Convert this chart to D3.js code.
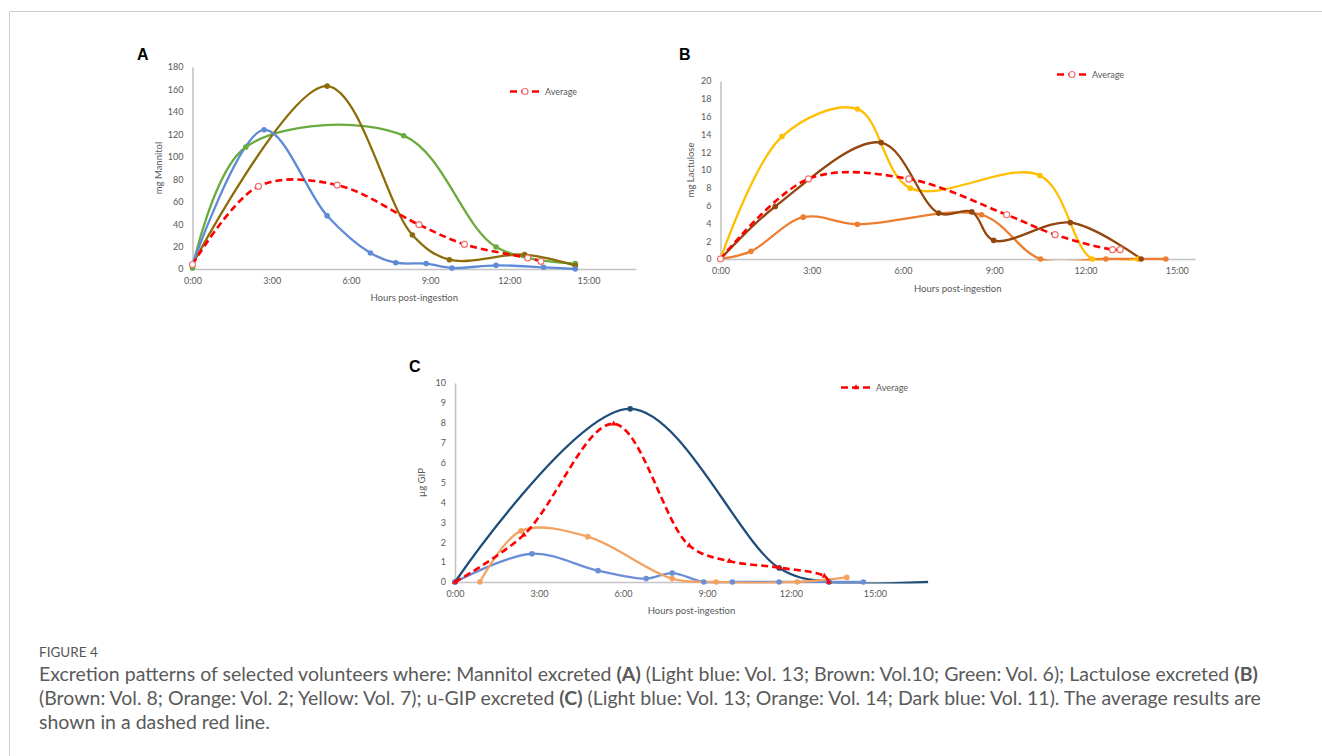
<!DOCTYPE html>
<html>
<head>
<meta charset="utf-8">
<script src="https://cdn.jsdelivr.net/npm/d3@7"></script>
<style>
body{margin:0;background:#fff;}
svg{display:block;font-family:Lato, "Open Sans", sans-serif;}
</style>
</head>
<body>
<svg id="fig" width="1322" height="756"></svg>
<script>
// x axis ticks (hours post-ingestion)
var hourTicks = [0, 3, 6, 9, 12, 15];
var hourLabels = ["0:00", "3:00", "6:00", "9:00", "12:00", "15:00"];

// A - mg Mannitol
var mannitolTicks = [0, 20, 40, 60, 80, 100, 120, 140, 160, 180];
var mannitolHours13 = [0, 2.71, 5.1, 6.74, 7.7, 8.85, 9.83, 11.5, 13.3, 14.5];
var mannitolVol13 = [4, 124, 47.5, 14.3, 5.6, 4.8, 0.9, 3.3, 1.5, 0];
var mannitolHours10 = [0, 5.1, 8.33, 9.73, 12.58, 14.5];
var mannitolVol10 = [4, 163, 30.3, 8.3, 12.8, 3];
var mannitolHours6 = [0, 2.02, 8.0, 11.5, 14.5];
var mannitolVol6 = [1, 108.7, 118.8, 19.6, 4.8];
var mannitolHoursAvg = [0, 2.5, 5.48, 8.58, 10.3, 12.7, 13.2];
var mannitolAvg = [4, 73.7, 74.8, 39.5, 22, 9.8, 6.8];

// B - mg Lactulose
var lactuloseTicks = [0, 2, 4, 6, 8, 10, 12, 14, 16, 18, 20];
var lactuloseHours7 = [0, 2.02, 4.5, 6.24, 10.5, 12.22, 13.72];
var lactuloseVol7 = [0, 13.76, 16.86, 7.96, 9.38, 0, 0];
var lactuloseHours8 = [0, 1.8, 5.28, 7.17, 8.26, 8.98, 11.5, 13.83];
var lactuloseVol8 = [0, 5.9, 13.08, 5.16, 5.3, 2.09, 4.1, 0];
var lactuloseHours2 = [0, 1.0, 2.72, 4.5, 8.58, 10.52, 12.67, 14.64];
var lactuloseVol2 = [0, 0.86, 4.7, 3.9, 4.97, 0, 0, 0];
var lactuloseHoursAvg = [0, 2.89, 6.19, 9.41, 11.0, 12.89, 13.14];
var lactuloseAvg = [0, 9.0, 9.0, 4.97, 2.73, 1.05, 1.05];

// C - ug GIP
var gipTicks = [0, 1, 2, 3, 4, 5, 6, 7, 8, 9, 10];
var gipHours11 = [0, 6.26, 11.58, 13.36, 16.9];
var gipVol11 = [0, 8.7, 0.7, 0, 0];
var gipHours13 = [0, 2.75, 5.11, 6.83, 7.76, 8.89, 9.91, 11.58, 13.36, 14.59];
var gipVol13 = [0, 1.42, 0.57, 0.17, 0.45, 0, 0, 0, 0, 0];
var gipHours14 = [0.89, 2.36, 4.74, 7.76, 9.33, 12.23, 14.0];
var gipVol14 = [0, 2.57, 2.28, 0.17, 0, 0, 0.23];
var gipHoursAvg = [0, 2.46, 5.67, 8.37, 9.8, 11.6, 13.2, 13.36];
var gipAvg = [0, 2.37, 7.95, 1.83, 1.05, 0.72, 0.3, 0];

var svg = d3.select("#fig");
var FONT = "Lato, 'Open Sans', sans-serif";

// frame lines
svg.append("line").attr("x1", 9.5).attr("x2", 1322).attr("y1", 11.5).attr("y2", 11.5)
    .attr("stroke", "#cfcfcf").attr("stroke-width", 1);
svg.append("line").attr("x1", 9.5).attr("x2", 9.5).attr("y1", 11.5).attr("y2", 756)
    .attr("stroke", "#cfcfcf").attr("stroke-width", 1);

var panels = [
  {
    name: "A", nameX: 137, nameY: 60,
    left: 192.5, right: 636, top: 67, bottom: 269, xMax: 16.8, yMax: 180, yTicks: mannitolTicks,
    yTitle: "mg Mannitol", yTitleX: 160, xTitleY: 301,
    legendX: 510, legendY: 91.5, avgMarker: "circle",
    series: [
      {hours: mannitolHours6, values: mannitolVol6, color: "#6aab3f"},
      {hours: mannitolHours10, values: mannitolVol10, color: "#8c6c08"},
      {hours: mannitolHours13, values: mannitolVol13, color: "#5f8ad6"}
    ],
    avg: {hours: mannitolHoursAvg, values: mannitolAvg}
  },
  {
    name: "B", nameX: 679, nameY: 60,
    left: 720.5, right: 1195, top: 81, bottom: 259, xMax: 15.6, yMax: 20, yTicks: lactuloseTicks,
    yTitle: "mg Lactulose", yTitleX: 692, xTitleY: 292,
    legendX: 1057, legendY: 74.5, avgMarker: "circle",
    series: [
      {hours: lactuloseHours2, values: lactuloseVol2, color: "#ed7d31"},
      {hours: lactuloseHours7, values: lactuloseVol7, color: "#ffbf00"},
      {hours: lactuloseHours8, values: lactuloseVol8, color: "#94460f"}
    ],
    avg: {hours: lactuloseHoursAvg, values: lactuloseAvg}
  },
  {
    name: "C", nameX: 409, nameY: 372,
    left: 455, right: 928, top: 383, bottom: 582, xMax: 16.9, yMax: 10, yTicks: gipTicks,
    yTitle: "\u00b5g GIP", yTitleX: 423, xTitleY: 614,
    legendX: 841, legendY: 387.5, avgMarker: "triangle",
    series: [
      {hours: gipHours11, values: gipVol11, color: "#1f4e79", openEnd: true},
      {hours: gipHours13, values: gipVol13, color: "#6b8fd6"},
      {hours: gipHours14, values: gipVol14, color: "#f4a261"}
    ],
    avg: {hours: gipHoursAvg, values: gipAvg}
  }
];

function DrawPanel(p, k)
{
  var x = d3.scaleLinear().domain([0, p.xMax]).range([p.left, p.right]);
  var y = d3.scaleLinear().domain([0, p.yMax]).range([p.bottom, p.top]);
  var g = svg.append("g");

  // keep the smoothed curves from dipping under the x axis
  g.append("clipPath").attr("id", "clip" + k)
    .append("rect")
    .attr("x", p.left - 5).attr("y", p.top - 40)
    .attr("width", p.right - p.left + 10).attr("height", p.bottom - p.top + 41.5);

  var yAxis = g.append("g")
    .attr("transform", "translate(" + p.left + ",0)")
    .call(d3.axisLeft(y).tickValues(p.yTicks).tickSize(0).tickPadding(9));
  var xAxis = g.append("g")
    .attr("transform", "translate(0," + p.bottom + ")")
    .call(d3.axisBottom(x).tickValues(hourTicks).tickFormat(function(d, i){ return hourLabels[i]; }).tickSize(0).tickPadding(9));

  [yAxis, xAxis].forEach(function(a){
    a.attr("font-family", FONT).attr("font-size", 9);
    a.select(".domain").attr("stroke", "#c4c4c4").attr("stroke-width", 1.6);
    a.selectAll("text").attr("fill", "#595959");
  });

  var line = d3.line()
    .x(function(d){ return x(d[0]); })
    .y(function(d){ return y(d[1]); })
    .curve(d3.curveCatmullRom.alpha(0.5));

  var lines = g.append("g").attr("clip-path", "url(#clip" + k + ")");

  p.series.forEach(function(s){
    var pts = s.hours.map(function(h, i){ return [h, s.values[i]]; });
    lines.append("path")
      .datum(pts)
      .attr("d", line)
      .attr("fill", "none")
      .attr("stroke", s.color)
      .attr("stroke-width", 2.3);
    g.selectAll(null)
      .data(s.openEnd ? pts.slice(0, -1) : pts)
      .enter()
      .append("circle")
      .attr("cx", function(d){ return x(d[0]); })
      .attr("cy", function(d){ return y(d[1]); })
      .attr("r", 2.8)
      .attr("fill", s.color);
  });

  // average, dashed red
  var avgPts = p.avg.hours.map(function(h, i){ return [h, p.avg.values[i]]; });
  g.append("path")
    .datum(avgPts)
    .attr("d", line)
    .attr("clip-path", "url(#clip" + k + ")")
    .attr("fill", "none")
    .attr("stroke", "#ff0000")
    .attr("stroke-width", 2.6)
    .attr("stroke-dasharray", "7,4");
  DrawMarkers(g, avgPts.map(function(d){ return [x(d[0]), y(d[1])]; }), p.avgMarker);

  // legend
  g.append("line")
    .attr("x1", p.legendX).attr("x2", p.legendX + 30)
    .attr("y1", p.legendY).attr("y2", p.legendY)
    .attr("stroke", "#ff0000").attr("stroke-width", 2.6).attr("stroke-dasharray", "7,4");
  DrawMarkers(g, [[p.legendX + 15, p.legendY]], p.avgMarker);
  g.append("text")
    .attr("x", p.legendX + 35).attr("y", p.legendY + 3)
    .attr("font-size", 9).attr("fill", "#595959")
    .text("Average");

  // titles
  g.append("text")
    .attr("x", (p.left + p.right) / 2).attr("y", p.xTitleY)
    .attr("text-anchor", "middle").attr("font-size", 9.5).attr("fill", "#595959")
    .text("Hours post-ingestion");
  g.append("text")
    .attr("transform", "translate(" + p.yTitleX + "," + (p.top + p.bottom) / 2 + ") rotate(-90)")
    .attr("text-anchor", "middle").attr("dominant-baseline", "middle")
    .attr("font-size", 9.5).attr("fill", "#595959")
    .text(p.yTitle);
  g.append("text")
    .attr("x", p.nameX).attr("y", p.nameY)
    .attr("font-family", "'Liberation Sans', Arial, sans-serif")
    .attr("font-weight", "bold").attr("font-size", 16).attr("fill", "#000")
    .text(p.name);
}

function DrawMarkers(g, pts, kind)
{
  if (kind == "triangle") {
    g.selectAll(null).data(pts).enter()
      .append("path")
      .attr("d", d3.symbol().type(d3.symbolTriangle).size(14))
      .attr("transform", function(d){ return "translate(" + d[0] + "," + d[1] + ")"; })
      .attr("fill", "#ff0000");
  } else {
    g.selectAll(null).data(pts).enter()
      .append("circle")
      .attr("cx", function(d){ return d[0]; })
      .attr("cy", function(d){ return d[1]; })
      .attr("r", 3)
      .attr("fill", "#fff")
      .attr("stroke", "#f07070")
      .attr("stroke-width", 1.2);
  }
}

panels.forEach(DrawPanel);

// caption
svg.append("text")
  .attr("x", 39).attr("y", 657)
  .attr("font-size", 13.5).attr("fill", "#555")
  .text("FIGURE 4");

var captionLines = [
  [["Excretion patterns of selected volunteers where: Mannitol excreted ", false], ["(A)", true], [" (Light blue: Vol. 13; Brown: Vol.10; Green: Vol. 6); Lactulose excreted ", false], ["(B)", true]],
  [["(Brown: Vol. 8; Orange: Vol. 2; Yellow: Vol. 7); u-GIP excreted ", false], ["(C)", true], [" (Light blue: Vol. 13; Orange: Vol. 14; Dark blue: Vol. 11). The average results are", false]],
  [["shown in a dashed red line.", false]]
];
var captionTexts = captionLines.map(function(parts, i){
  var t = svg.append("text")
    .attr("x", 39).attr("y", 681 + i * 24)
    .attr("font-size", 16).attr("fill", "#5a5a5a");
  parts.forEach(function(p){
    t.append("tspan").attr("font-weight", p[1] ? "bold" : null).text(p[0]);
  });
  return t;
});
// fit first line to reference width
var w = captionTexts[0].node().getComputedTextLength();
var fs = 16 * 1219 / w;
captionTexts.forEach(function(t){ t.attr("font-size", fs); });
</script>
</body>
</html>
